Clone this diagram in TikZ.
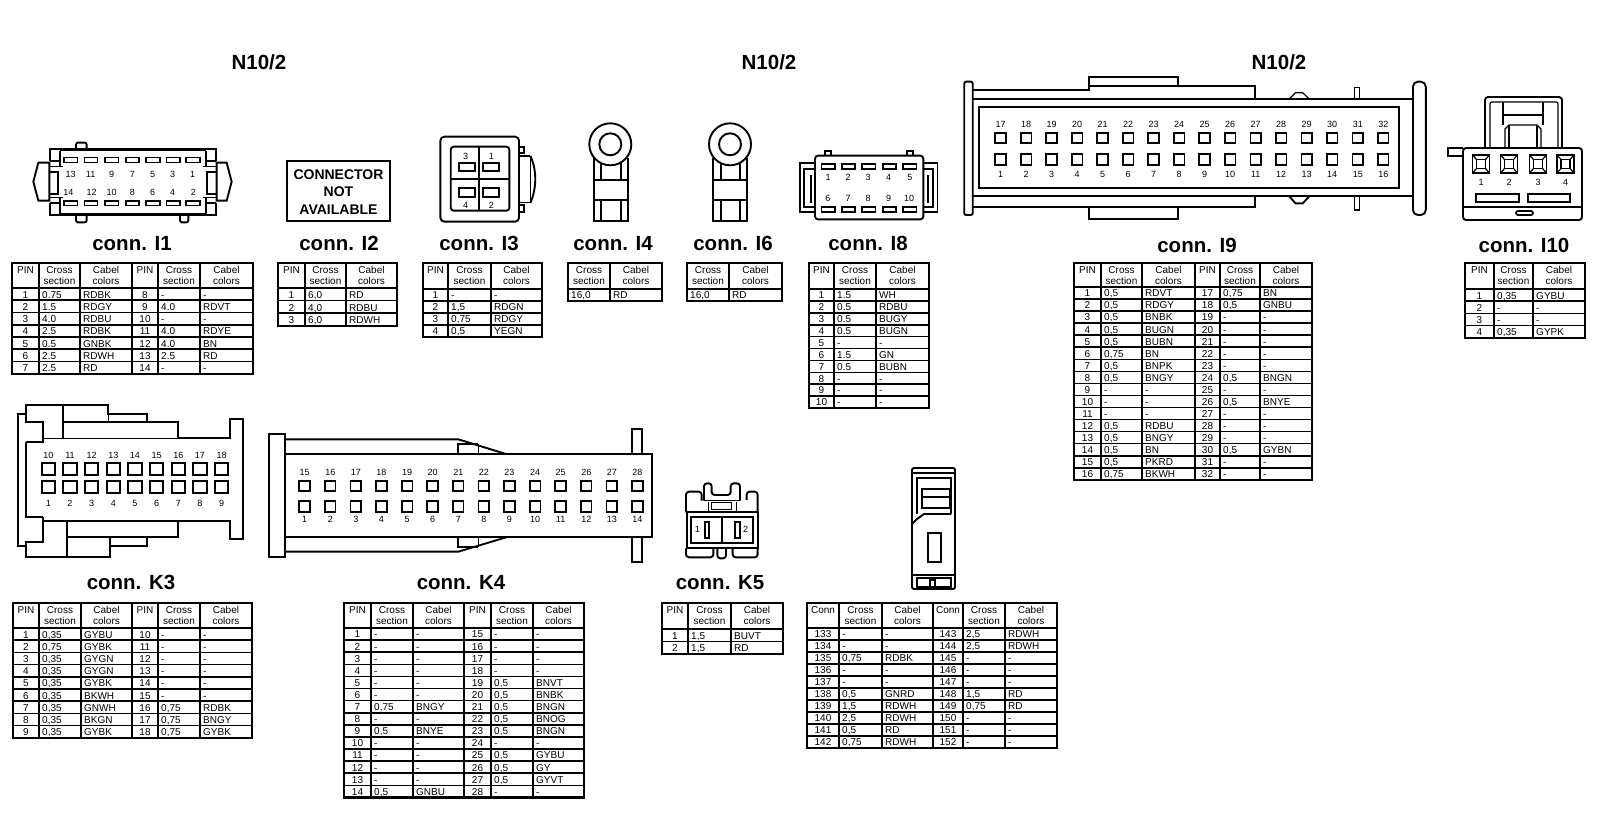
\documentclass[tikz,border=0pt]{standalone}
\usepackage{fontspec}
\setmainfont{Liberation Sans}
\newcount\rwn
\tikzset{
 tbt/.style={font=\fontsize{10}{12}\selectfont,inner sep=0pt,anchor=base},
 tbl/.style={tbt,anchor=base west},
 tline/.style={line width=1.6pt},
 tframe/.style={line width=2.2pt},
 heavy/.style={line width=1.9pt,line join=miter},
 fine/.style={line width=1.2pt},
 pinbox/.style={line width=1.7pt},
 plab/.style={font=\fontsize{9}{11}\selectfont,inner sep=0pt},
 ctitle/.style={font=\bfseries\fontsize{20.5}{24}\selectfont,inner sep=0pt},
}
\newcommand\tstart[9]{\gdef\tid{#1}\gdef\xa{#2}\gdef\xb{#3}\gdef\xc{#4}\gdef\xd{#5}\gdef\ty{#6}\gdef\hy{#7}\gdef\rh{#8}\global\rwn=0
 \node[tbt] (\tid hp) at ({(\xa+\xb)/2},{\ty+10}) {#9};
 \node[tbt] (\tid hc) at ({(\xb+\xc)/2},{\ty+10}) {Cross};
 \node[tbt] (\tid hs) at ({(\xb+\xc)/2},{\ty+21.5}) {section};
 \node[tbt] (\tid hk) at ({(\xc+\xd)/2},{\ty+10}) {Cabel};
 \node[tbt] (\tid ho) at ({(\xc+\xd)/2},{\ty+21.5}) {colors};
 \draw[tline] (\xa,\hy) -- (\xd,\hy);
}
\newcommand\rw[3]{\pgfmathsetmacro\ybase{\hy+\rh*\the\rwn+\rh-2.2}\pgfmathsetmacro\yline{\hy+\rh*\the\rwn+\rh}
 \node[tbt] (\tid p\the\rwn) at ({(\xa+\xb)/2},\ybase) {#1};
 \node[tbl] (\tid c\the\rwn) at ({\xb+3},\ybase) {#2};
 \node[tbl] (\tid k\the\rwn) at ({\xc+3},\ybase) {#3};
 \draw[tline] (\xa,\yline) -- (\xd,\yline);
 \global\advance\rwn by 1 }
\newcommand\tend{\pgfmathsetmacro\yb{\hy+\rh*\the\rwn}
 \draw[tline] (\xb,\ty) -- (\xb,\yb) (\xc,\ty) -- (\xc,\yb);
 \draw[tframe] (\xa,\ty) rectangle (\xd,\yb);}
\newcommand\tworw[9]{% id x0 x1 x2 top hdr bot val col
 \node[tbt] (#1hc) at ({(#2+#3)/2},{#5+10}) {Cross};
 \node[tbt] (#1hs) at ({(#2+#3)/2},{#5+21.5}) {section};
 \node[tbt] (#1hk) at ({(#3+#4)/2},{#5+10}) {Cabel};
 \node[tbt] (#1ho) at ({(#3+#4)/2},{#5+21.5}) {colors};
 \node[tbl] (#1c) at ({#2+3},{#7-2.5}) {#8};
 \node[tbl] (#1k) at ({#3+3},{#7-2.5}) {#9};
 \draw[tline] (#2,#6) -- (#4,#6) (#3,#5) -- (#3,#7);
 \draw[tframe] (#2,#5) rectangle (#4,#7);}
\newcommand\zs[3]{\begin{scope}[shift={(#1pt,-#2pt)},x=#3pt,y=-0.33333pt]}
\begin{document}
\begin{tikzpicture}[x=1pt,y=-1pt]
\fill[white] (0,0) rectangle (1600,812);
\useasboundingbox (0,0) rectangle (1600,812);

% headings
\node[ctitle] (h1) at (259,62) {N10/2};
\node[ctitle] (h2) at (769,62) {N10/2};
\node[ctitle] (h3) at (1279,62) {N10/2};
\node[ctitle] (ti1) at (132,243.5) {conn. I1};
\node[ctitle] (ti2) at (339,243.5) {conn. I2};
\node[ctitle] (ti3) at (479,243.5) {conn. I3};
\node[ctitle] (ti4) at (613,243.5) {conn. I4};
\node[ctitle] (ti6) at (733,243.5) {conn. I6};
\node[ctitle] (ti8) at (868,243.5) {conn. I8};
\node[ctitle] (ti9) at (1197,245.5) {conn. I9};
\node[ctitle] (ti10) at (1524,245.5) {conn. I10};
\node[ctitle] (tk3) at (131,582.5) {conn. K3};
\node[ctitle] (tk4) at (461,582.5) {conn. K4};
\node[ctitle] (tk5) at (720,582.5) {conn. K5};

% ---------- I1 ----------
\zs{0}{120}{0.33333}
\draw[heavy,rounded corners=2pt] (228,88) -- (228,68) -- (260,68) -- (260,88);
\draw[heavy,rounded corners=2pt] (228,285) -- (228,307) -- (260,307) -- (260,285);
\draw[heavy,rounded corners=2pt] (540,285) -- (540,307) -- (565,307) -- (565,285);
\draw[heavy] (150,122) -- (150,88) -- (648,88) -- (648,122);
\draw[heavy] (150,248) -- (150,285) -- (648,285) -- (648,248);
\draw[heavy] (150,122) -- (180,122) (618,122) -- (648,122) (150,248) -- (180,248) (618,248) -- (648,248);
\draw[heavy] (180,92) -- (180,140) (180,232) -- (180,282) (618,92) -- (618,140) (618,232) -- (618,282);
\draw[fine] (180,92) -- (618,92) (180,282) -- (618,282);
\draw[heavy] (148,128) -- (115,128) -- (100,185) -- (115,242) -- (148,242) -- cycle;
\draw[heavy] (650,128) -- (680,128) -- (695,185) -- (680,242) -- (650,242) -- cycle;
\draw[heavy] (148,155) -- (175,155) -- (175,222) -- (148,222);
\draw[heavy] (650,155) -- (622,155) -- (622,222) -- (650,222);
\draw[fine] (148,140) -- (190,140) (148,232) -- (190,232) (608,140) -- (650,140) (608,232) -- (650,232);
\foreach \a/\b in {192/232,253/293,315/355,378/417,438/480,500/540,558/600}{
 \draw[fine,fill=white] (\a,113) rectangle (\b,128);
 \draw[fine,fill=white] (\a,243) rectangle (\b,257);}
\foreach \n/\x in {13/212,11/272,9/335,7/397,5/458,3/518,1/578}
 \node[plab] (a1\n) at (\x,163) {\n};
\foreach \n/\x in {14/205,12/275,10/335,8/397,6/458,4/518,2/580}
 \node[plab] (a1\n) at (\x,217) {\n};
\end{scope}

% ---------- I2 ----------
\draw[line width=2.2pt] (286.7,160.7) rectangle (390,221);
\node[font=\bfseries\fontsize{14}{16}\selectfont,inner sep=0pt] (nc1) at (338.5,174.5) {CONNECTOR};
\node[font=\bfseries\fontsize{14}{16}\selectfont,inner sep=0pt] (nc2) at (338.5,192) {NOT};
\node[font=\bfseries\fontsize{14}{16}\selectfont,inner sep=0pt] (nc3) at (338.5,209.5) {AVAILABLE};

% ---------- I3 ----------
\zs{400}{100}{0.345}
\draw[heavy,rounded corners=4pt] (117,110) rectangle (345,365);
\draw[heavy,rounded corners=3pt] (147,140) rectangle (317,332);
\draw[heavy] (230,140) -- (230,332);
\draw[fine] (147,237) -- (317,237);
\foreach \a/\b/\c/\d in {170/190/217/213,240/190/287/213,170/265/217/290,240/265/287/290}
 \draw[pinbox] (\a,\b) rectangle (\c,\d);
\node[plab] (a31) at (265,168) {1};
\node[plab] (a33) at (190,168) {3};
\node[plab] (a34) at (190,315) {4};
\node[plab] (a32) at (265,315) {2};
\draw[heavy] (345,140) -- (360,140) -- (360,160) -- (345,160);
\draw[heavy] (345,315) -- (360,315) -- (360,335) -- (345,335);
\draw[fine] (345,168) -- (378,168) (345,308) -- (378,308);
\draw[fine] (378,168) -- (378,308);
\draw[heavy] (378,168) .. controls (388,190) and (392,215) .. (392,237) .. controls (392,260) and (388,285) .. (378,308);
\end{scope}

% ---------- I4, I6 ----------
\zs{400}{100}{0.345}
\foreach \l/\m/\n/\r in {562/582/640/660,908/930/985/1006}{
 \draw[heavy] (\l,175) -- (\l,363) -- (\r,363) -- (\r,175);
 \draw[heavy] (\m,190) -- (\m,240) (\n,190) -- (\n,240);
 \draw[heavy] (\l,240) -- (\m,240) (\n,240) -- (\r,240);
 \draw[fine] (\m,240) -- (\n,240);
 \draw[heavy] (\l,300) -- (\r,300);
 \draw[heavy] (\m,300) -- (\m,363) (\n,300) -- (\n,363);
}
\end{scope}
\draw[heavy,fill=white] (610.3,144.3) circle (21);
\draw[heavy] (610.3,144.3) circle (11);
\draw[heavy,fill=white] (730,144.3) circle (21);
\draw[heavy] (730,144.3) circle (11);

% ---------- I8 ----------
\zs{400}{100}{0.345}
\draw[heavy,rounded corners=3pt] (1203,167) rectangle (1517,358);
\draw[heavy] (1233,167) -- (1233,152) -- (1250,152) -- (1250,167);
\draw[heavy] (1470,167) -- (1470,152) -- (1488,152) -- (1488,167);
\draw[heavy] (1203,190) -- (1160,190) -- (1160,337) -- (1203,337);
\draw[heavy] (1203,207) -- (1172,207) -- (1172,320) -- (1203,320);
\draw[heavy] (1190,225) -- (1190,310);
\draw[heavy] (1517,190) -- (1558,190) -- (1558,337) -- (1517,337);
\draw[heavy] (1517,207) -- (1545,207) -- (1545,320) -- (1517,320);
\draw[heavy] (1530,225) -- (1530,310);
\foreach \a/\b in {1222/1260,1282/1318,1340/1378,1400/1438,1458/1497}{
 \draw[pinbox] (\a,193) rectangle (\b,207);
 \draw[pinbox] (\a,322) rectangle (\b,337);}
\foreach \n/\x in {1/1241,2/1299,3/1357,4/1416,5/1478}
 \node[plab] (a8\n) at (\x,232) {\n};
\foreach \n/\x in {6/1240,7/1299,8/1357,9/1416,10/1476}
 \node[plab] (a8\n) at (\x,295) {\n};
\end{scope}

% ---------- I9 ----------
\zs{930}{60}{0.4274}
\draw[heavy,rounded corners=2pt] (80,65) rectangle (100,465);
\draw[heavy,rounded corners=5pt] (1130,65) rectangle (1160,465);
\draw[heavy] (372,78) -- (372,50) -- (580,50) -- (580,78);
\draw[heavy] (100,90) -- (372,90) -- (372,78) -- (760,78) -- (760,118);
\draw[heavy] (100,118) -- (1130,118);
\draw[heavy] (100,408) -- (1130,408);
\draw[heavy] (115,142) rectangle (1097,385);
\draw[heavy] (100,440) -- (760,440) -- (760,408);
\draw[heavy] (372,440) -- (372,478) -- (580,478) -- (580,440);
\draw[fine] (840,118) -- (855,98) -- (872,98) -- (888,118);
\draw[heavy] (840,408) -- (855,430) -- (872,430) -- (888,408);
\draw[fine] (993,118) -- (993,82) -- (1005,82) -- (1005,118);
\draw[fine] (993,408) -- (993,450) -- (1005,450) -- (1005,408);
\foreach \i in {1,...,16}{
 \pgfmathsetmacro\cx{165+59.7*(\i-1)}
 \pgfmathtruncatemacro\m{\i+16}
 \draw[pinbox] ({\cx-12.5},218) rectangle ({\cx+12.5},250);
 \draw[pinbox] ({\cx-12.5},282) rectangle ({\cx+12.5},315);
 \node[plab] (a9\m) at (\cx,192) {\m};
 \node[plab] (a9\i) at (\cx,343) {\i};
}
\end{scope}

% ---------- I10 ----------
\draw[heavy,rounded corners=3pt] (1463,148) rectangle (1582,220);
\draw[heavy] (1463,207) -- (1582,207);
\draw[heavy] (1463,148) -- (1448,148) -- (1448,156) -- (1463,156);
\draw[heavy,rounded corners=3pt] (1485,148) -- (1485,97) -- (1562,97) -- (1562,148);
\draw[fine,rounded corners=2pt] (1490,148) -- (1490,102) -- (1558,102) -- (1558,148);
\draw[heavy] (1503,102) -- (1503,125) (1543,102) -- (1543,125);
\draw[fine] (1503,115) -- (1543,115);
\draw[fine] (1505,148) -- (1505,129) -- (1509,125) -- (1537,125) -- (1541,129) -- (1541,148);
\draw[fine] (1509,125) -- (1509,148) (1537,125) -- (1537,148);
\foreach \n/\x in {1/1481,2/1509,3/1538,4/1565.5}{
 \draw[pinbox] (\x-8.5,155) rectangle (\x+8.5,173);
 \draw[pinbox] (\x-4.5,159.5) rectangle (\x+4.5,168.5);
 \draw[fine] (\x-8.5,155) -- (\x-4.5,159.5) (\x+8.5,155) -- (\x+4.5,159.5) (\x-8.5,173) -- (\x-4.5,168.5) (\x+8.5,173) -- (\x+4.5,168.5);
 \node[plab] (a10\n) at (\x,182) {\n};
}
\draw[pinbox] (1476,194) rectangle (1519,202);
\draw[pinbox] (1528,194) rectangle (1570,202);
\draw[pinbox,rounded corners=2pt] (1516,211) rectangle (1533,215);

% ---------- K3 ----------
\zs{0}{390}{0.33333}
\draw[heavy] (78,72) -- (55,72) -- (55,468) -- (78,468);
\draw[heavy] (78,155) -- (78,380) -- (128,380);
\draw[heavy] (78,155) -- (128,155) -- (128,97) -- (78,97) -- (78,45) -- (325,45) -- (325,72) -- (442,72) -- (442,97) -- (535,97) -- (535,145) -- (690,145) -- (690,88) -- (728,88) -- (728,448) -- (690,448) -- (690,393) -- (128,393) -- (128,380);
\draw[heavy] (128,393) -- (128,455) -- (78,455) -- (78,500) -- (330,500) -- (330,468) -- (442,468) -- (442,440) -- (200,440);
\draw[heavy] (190,45) -- (190,145);
\draw[fine] (128,145) -- (535,145);
\draw[heavy] (190,97) -- (442,97);
\draw[fine] (325,72) -- (325,97);
\draw[heavy] (200,393) -- (200,500);
\draw[fine] (330,440) -- (330,468);
\draw[heavy] (535,393) -- (535,440) -- (442,440);
\foreach \i in {1,...,9}{
 \pgfmathsetmacro\cx{145+65*(\i-1)}
 \pgfmathtruncatemacro\m{\i+9}
 \draw[pinbox] ({\cx-20},218) rectangle ({\cx+20},255);
 \draw[pinbox] ({\cx-20},273) rectangle ({\cx+20},310);
 \node[plab] (k3a\m) at (\cx,195) {\m};
 \node[plab] (k3a\i) at (\cx,340) {\i};
}
\end{scope}

% ---------- K4 ----------
\zs{250}{410}{0.33333}
\draw[heavy] (57,72) rectangle (105,440);
\draw[heavy] (105,88) -- (625,88) -- (768,132);
\draw[heavy] (105,425) -- (625,425) -- (775,380);
\draw[heavy] (105,133) -- (1207,133) -- (1207,380) -- (105,380);
\draw[heavy] (625,132) -- (625,103) -- (685,103);
\draw[fine] (685,103) -- (685,132);
\draw[heavy] (625,380) -- (625,410) -- (685,410);
\draw[fine] (685,380) -- (685,410);
\draw[heavy] (1147,133) -- (1147,57) -- (1177,57) -- (1177,133);
\draw[heavy] (1147,380) -- (1147,457) -- (1177,457) -- (1177,380);
\foreach \i in {1,...,14}{
 \pgfmathsetmacro\cx{164+76.8*(\i-1)}
 \pgfmathtruncatemacro\m{\i+14}
 \draw[pinbox] ({\cx-16},212) rectangle ({\cx+16},243);
 \draw[pinbox] ({\cx-16},273) rectangle ({\cx+16},305);
 \node[plab] (k4a\m) at (\cx,187) {\m};
 \node[plab] (k4a\i) at (\cx,327) {\i};
}
\end{scope}

% ---------- K5 ----------
\zs{640}{450}{0.33333}
\draw[heavy] (140,187) rectangle (353,295);
\draw[heavy] (152,202) rectangle (340,278);
\draw[heavy] (245,202) -- (245,278);
\draw[heavy] (195,215) rectangle (207,265);
\draw[heavy] (285,215) rectangle (300,265);
\node[plab] (k51) at (172,238) {1};
\node[plab] (k52) at (317,238) {2};
\draw[heavy,rounded corners=3pt] (138,187) -- (138,125) -- (185,125) -- (185,152);
\draw[heavy,rounded corners=3pt] (320,150) -- (320,125) -- (353,125) -- (353,187);
\draw[heavy,rounded corners=3pt] (192,152) -- (192,100) -- (215,100) -- (215,135) -- (272,135) -- (272,100) -- (300,100) -- (300,152);
\draw[fine] (192,152) -- (300,152);
\draw[fine] (215,158) rectangle (275,178);
\draw[fine] (205,155) -- (205,187) (290,155) -- (290,187);
\draw[heavy,rounded corners=3pt] (138,295) -- (138,322) -- (220,322) -- (220,295);
\draw[heavy,rounded corners=3pt] (278,295) -- (278,322) -- (353,322) -- (353,295);
\draw[heavy,rounded corners=3pt] (232,295) -- (232,325) -- (258,325) -- (258,295);
\end{scope}

% ---------- untitled connector ----------
\draw[heavy,rounded corners=2pt] (912,468) rectangle (955,589);
\draw[heavy] (912,473) -- (955,473);
\draw[heavy] (917,514) -- (917,478) -- (951,478) -- (951,514);
\draw[heavy] (912,524) -- (917,519) -- (924,514) -- (951,514);
\draw[pinbox] (922,489) rectangle (950,508);
\draw[fine] (922,497) -- (950,497);
\draw[pinbox] (928,533) rectangle (941,562);
\draw[heavy] (912,575) -- (955,575);
\draw[pinbox] (917,578) rectangle (951,587);
\draw[pinbox] (930,580) rectangle (935,587);

% ---------- tables ----------
\tstart{ia}{12}{39}{80}{132}{263}{288}{12.25}{PIN}
\rw{1}{0.75}{RDBK}\rw{2}{1.5}{RDGY}\rw{3}{4.0}{RDBU}\rw{4}{2.5}{RDBK}\rw{5}{0.5}{GNBK}\rw{6}{2.5}{RDWH}\rw{7}{2.5}{RD}\tend
\tstart{ib}{132}{158}{200}{253}{263}{288}{12.25}{PIN}
\rw{8}{-}{-}\rw{9}{4.0}{RDVT}\rw{10}{-}{-}\rw{11}{4.0}{RDYE}\rw{12}{4.0}{BN}\rw{13}{2.5}{RD}\rw{14}{-}{-}\tend

\tstart{ic}{278}{305}{346}{397}{263}{288}{12.6}{PIN}
\rw{1}{6,0}{RD}\rw{2}{4,0}{RDBU}\rw{3}{6,0}{RDWH}\tend

\tstart{id}{423}{448}{491}{542}{263}{289}{12}{PIN}
\rw{1}{-}{-}\rw{2}{1,5}{RDGN}\rw{3}{0,75}{RDGY}\rw{4}{0,5}{YEGN}\tend

\tworw{ie}{568}{610}{662}{263}{289}{301}{16,0}{RD}
\tworw{if}{687}{729}{782}{263}{289}{301}{16,0}{RD}

\tstart{ig}{809}{834}{876}{929}{263}{289}{11.9}{PIN}
\rw{1}{1.5}{WH}\rw{2}{0.5}{RDBU}\rw{3}{0.5}{BUGY}\rw{4}{0.5}{BUGN}\rw{5}{-}{-}\rw{6}{1.5}{GN}\rw{7}{0.5}{BUBN}\rw{8}{-}{-}\rw{9}{-}{-}\rw{10}{-}{-}\tend

\tstart{ih}{1074}{1101}{1142}{1195}{263}{287}{12.05}{PIN}
\rw{1}{0,5}{RDVT}\rw{2}{0,5}{RDGY}\rw{3}{0,5}{BNBK}\rw{4}{0,5}{BUGN}\rw{5}{0,5}{BUBN}\rw{6}{0,75}{BN}\rw{7}{0,5}{BNPK}\rw{8}{0,5}{BNGY}\rw{9}{-}{-}\rw{10}{-}{-}\rw{11}{-}{-}\rw{12}{0,5}{RDBU}\rw{13}{0,5}{BNGY}\rw{14}{0,5}{BN}\rw{15}{0,5}{PKRD}\rw{16}{0,75}{BKWH}\tend
\tstart{ii}{1195}{1220}{1260}{1312}{263}{287}{12.05}{PIN}
\rw{17}{0,75}{BN}\rw{18}{0,5}{GNBU}\rw{19}{-}{-}\rw{20}{-}{-}\rw{21}{-}{-}\rw{22}{-}{-}\rw{23}{-}{-}\rw{24}{0,5}{BNGN}\rw{25}{-}{-}\rw{26}{0,5}{BNYE}\rw{27}{-}{-}\rw{28}{-}{-}\rw{29}{-}{-}\rw{30}{0,5}{GYBN}\rw{31}{-}{-}\rw{32}{-}{-}\tend

\tstart{ij}{1465}{1494}{1533}{1585}{263}{289}{12.2}{PIN}
\rw{1}{0,35}{GYBU}\rw{2}{-}{-}\rw{3}{-}{-}\rw{4}{0,35}{GYPK}\tend

\tstart{ka}{13}{39}{81}{132}{603}{628}{12.2}{PIN}
\rw{1}{0,35}{GYBU}\rw{2}{0,75}{GYBK}\rw{3}{0,35}{GYGN}\rw{4}{0,35}{GYGN}\rw{5}{0,35}{GYBK}\rw{6}{0,35}{BKWH}\rw{7}{0,35}{GNWH}\rw{8}{0,35}{BKGN}\rw{9}{0,35}{GYBK}\tend
\tstart{kb}{132}{158}{200}{252}{603}{628}{12.2}{PIN}
\rw{10}{-}{-}\rw{11}{-}{-}\rw{12}{-}{-}\rw{13}{-}{-}\rw{14}{-}{-}\rw{15}{-}{-}\rw{16}{0,75}{RDBK}\rw{17}{0,75}{BNGY}\rw{18}{0,75}{GYBK}\tend

\tstart{kc}{344}{371}{413}{464}{603}{628}{12.1}{PIN}
\rw{1}{-}{-}\rw{2}{-}{-}\rw{3}{-}{-}\rw{4}{-}{-}\rw{5}{-}{-}\rw{6}{-}{-}\rw{7}{0,75}{BNGY}\rw{8}{-}{-}\rw{9}{0,5}{BNYE}\rw{10}{-}{-}\rw{11}{-}{-}\rw{12}{-}{-}\rw{13}{-}{-}\rw{14}{0,5}{GNBU}\tend
\tstart{kd}{464}{491}{533}{584}{603}{628}{12.1}{PIN}
\rw{15}{-}{-}\rw{16}{-}{-}\rw{17}{-}{-}\rw{18}{-}{-}\rw{19}{0,5}{BNVT}\rw{20}{0,5}{BNBK}\rw{21}{0,5}{BNGN}\rw{22}{0,5}{BNOG}\rw{23}{0,5}{BNGN}\rw{24}{-}{-}\rw{25}{0,5}{GYBU}\rw{26}{0,5}{GY}\rw{27}{0,5}{GYVT}\rw{28}{-}{-}\tend

\tstart{ke}{662}{688}{731}{783}{603}{629}{12.5}{PIN}
\rw{1}{1,5}{BUVT}\rw{2}{1,5}{RD}\tend

\tstart{ma}{807}{839}{882}{933}{603}{628}{12}{Conn}
\rw{133}{-}{-}\rw{134}{-}{-}\rw{135}{0,75}{RDBK}\rw{136}{-}{-}\rw{137}{-}{-}\rw{138}{0,5}{GNRD}\rw{139}{1,5}{RDWH}\rw{140}{2,5}{RDWH}\rw{141}{0,5}{RD}\rw{142}{0,75}{RDWH}\tend
\tstart{mb}{933}{963}{1005}{1057}{603}{628}{12}{Conn}
\rw{143}{2,5}{RDWH}\rw{144}{2,5}{RDWH}\rw{145}{-}{-}\rw{146}{-}{-}\rw{147}{-}{-}\rw{148}{1,5}{RD}\rw{149}{0,75}{RD}\rw{150}{-}{-}\rw{151}{-}{-}\rw{152}{-}{-}\tend
\end{tikzpicture}
\end{document}
